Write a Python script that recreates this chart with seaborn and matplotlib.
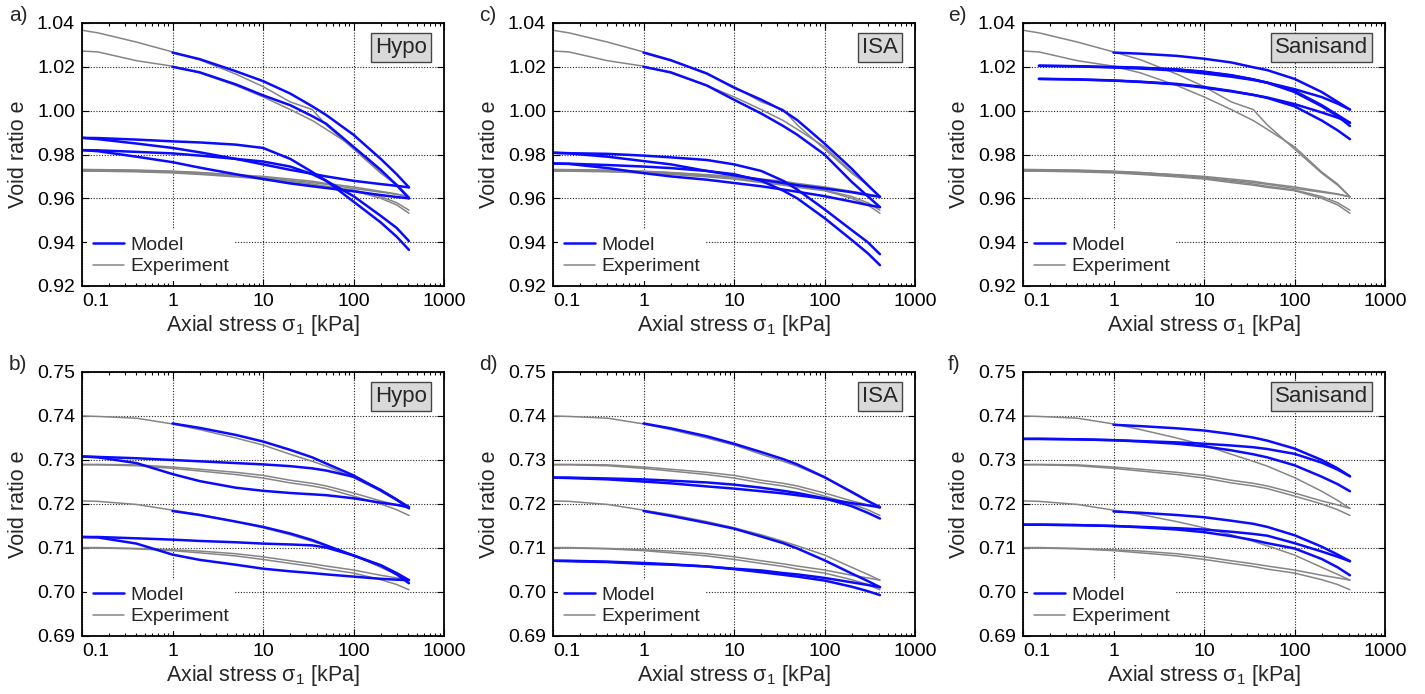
import numpy as np
import pandas as pd
import matplotlib
matplotlib.use("Agg")
import matplotlib.pyplot as plt
from matplotlib.lines import Line2D
from matplotlib.ticker import FixedLocator, FuncFormatter, LogLocator, NullFormatter, MultipleLocator
import seaborn as sns

N = np.nan

# common stress grid [kPa]
STRESS = [0.1, 0.15, 0.4, 1, 2, 5, 10, 20, 35, 50, 100, 200, 300, 410]

# experiments, loose sand (top row a, c, e)
exp_loose_load1 = [1.0367, 1.0355, 1.0313, 1.0268, 1.0232, 1.0167, 1.0110, 1.0040, 1.0005, 0.9935, 0.9825, 0.9715, 0.9660, 0.9607]
exp_loose_load2 = [1.0272, 1.0268, 1.0228, 1.0203, 1.0172, 1.0115, 1.0063, 1.0005, 0.9955, 0.9915, 0.9835, 0.9720, 0.9665, 0.9607]
exp_loose_unl1 = [0.9729, 0.9729, 0.9727, 0.9722, 0.9717, 0.9708, 0.9700, 0.9688, 0.9678, 0.9668, 0.9652, 0.9632, 0.9620, 0.9607]
exp_loose_rel1 = [0.9726, 0.9726, 0.9724, 0.9719, 0.9713, 0.9703, 0.9692, 0.9678, 0.9665, 0.9655, 0.9638, 0.9608, 0.9580, 0.9546]
exp_loose_unl2 = [0.9732, 0.9731, 0.9729, 0.9724, 0.9718, 0.9706, 0.9696, 0.9682, 0.9672, 0.9664, 0.9645, 0.9628, 0.9618, 0.9607]
exp_loose_rel2 = [0.9724, 0.9724, 0.9721, 0.9716, 0.9709, 0.9698, 0.9688, 0.9672, 0.9660, 0.9650, 0.9635, 0.9600, 0.9570, 0.9532]

# experiments, dense sand (bottom row b, d, f)
exp_dense_load1 = [0.7400, 0.7399, 0.7395, 0.7382, 0.7369, 0.7350, 0.7334, 0.7313, 0.7297, 0.7286, 0.7260, 0.7229, 0.7208, 0.7190]
exp_dense_unl1 = [0.7290, 0.7290, 0.7289, 0.7284, 0.7279, 0.7272, 0.7265, 0.7254, 0.7247, 0.7241, 0.7225, 0.7207, 0.7198, 0.7190]
exp_dense_rel1 = [0.7289, 0.7289, 0.7287, 0.7281, 0.7275, 0.7267, 0.7259, 0.7248, 0.7241, 0.7235, 0.7218, 0.7200, 0.7187, 0.7174]
exp_dense_load2 = [0.7207, 0.7206, 0.7199, 0.7186, 0.7176, 0.7160, 0.7146, 0.7130, 0.7115, 0.7105, 0.7084, 0.7056, 0.7040, 0.7027]
exp_dense_unl2 = [0.7101, 0.7101, 0.7099, 0.7096, 0.7093, 0.7087, 0.7080, 0.7071, 0.7064, 0.7059, 0.7050, 0.7038, 0.7032, 0.7027]
exp_dense_rel2 = [0.7100, 0.7100, 0.7098, 0.7094, 0.7089, 0.7082, 0.7074, 0.7065, 0.7058, 0.7052, 0.7043, 0.7028, 0.7017, 0.7005]

# Hypo
hypo_loose_load1 = [N, N, N, 1.0265, 1.0235, 1.0180, 1.0135, 1.0078, 1.0020, 0.9980, 0.9890, 0.9780, 0.9710, 0.9650]
hypo_loose_unl1 = [0.9876, 0.9870, 0.9850, 0.9830, 0.9810, 0.9780, 0.9755, 0.9730, 0.9712, 0.9700, 0.9680, 0.9665, 0.9657, 0.9650]
hypo_loose_rel1 = [0.9876, 0.9875, 0.9868, 0.9860, 0.9855, 0.9845, 0.9830, 0.9780, 0.9720, 0.9680, 0.9585, 0.9490, 0.9425, 0.9365]
hypo_loose_load2 = [N, N, N, 1.0200, 1.0175, 1.0120, 1.0070, 1.0025, 0.9975, 0.9940, 0.9835, 0.9730, 0.9660, 0.9600]
hypo_loose_unl2 = [0.9820, 0.9815, 0.9790, 0.9765, 0.9740, 0.9710, 0.9688, 0.9668, 0.9655, 0.9647, 0.9632, 0.9615, 0.9606, 0.9600]
hypo_loose_rel2 = [0.9820, 0.9819, 0.9812, 0.9805, 0.9795, 0.9780, 0.9768, 0.9745, 0.9710, 0.9680, 0.9610, 0.9520, 0.9465, 0.9405]

hypo_dense_load1 = [N, N, N, 0.7383, 0.7373, 0.7357, 0.7342, 0.7323, 0.7306, 0.7292, 0.7265, 0.7231, 0.7210, 0.7193]
hypo_dense_unl1 = [0.7308, 0.7306, 0.7293, 0.7268, 0.7252, 0.7237, 0.7230, 0.7225, 0.7222, 0.7220, 0.7213, 0.7203, 0.7198, 0.7193]
hypo_dense_rel1 = [0.7308, 0.7307, 0.7304, 0.7300, 0.7297, 0.7293, 0.7290, 0.7286, 0.7281, 0.7276, 0.7262, 0.7232, 0.7210, 0.7190]
hypo_dense_load2 = [N, N, N, 0.7184, 0.7175, 0.7160, 0.7148, 0.7133, 0.7118, 0.7106, 0.7083, 0.7061, 0.7043, 0.7027]
hypo_dense_unl2 = [0.7125, 0.7124, 0.7110, 0.7085, 0.7073, 0.7062, 0.7053, 0.7047, 0.7043, 0.7040, 0.7035, 0.7030, 0.7028, 0.7027]
hypo_dense_rel2 = [0.7125, 0.7125, 0.7122, 0.7119, 0.7116, 0.7113, 0.7110, 0.7108, 0.7106, 0.7101, 0.7083, 0.7060, 0.7040, 0.7020]

# ISA
isa_loose_load1 = [N, N, N, 1.0265, 1.0230, 1.0170, 1.0105, 1.0050, 1.0000, 0.9957, 0.9850, 0.9735, 0.9660, 0.9607]
isa_loose_unl1 = [0.9808, 0.9805, 0.9790, 0.9770, 0.9755, 0.9725, 0.9705, 0.9685, 0.9670, 0.9660, 0.9645, 0.9628, 0.9615, 0.9607]
isa_loose_rel1 = [0.9808, 0.9806, 0.9803, 0.9795, 0.9787, 0.9775, 0.9755, 0.9725, 0.9680, 0.9640, 0.9550, 0.9455, 0.9400, 0.9345]
isa_loose_load2 = [N, N, N, 1.0200, 1.0175, 1.0115, 1.0050, 0.9987, 0.9930, 0.9890, 0.9800, 0.9675, 0.9610, 0.9560]
isa_loose_unl2 = [0.9759, 0.9757, 0.9738, 0.9715, 0.9700, 0.9685, 0.9670, 0.9655, 0.9640, 0.9630, 0.9610, 0.9585, 0.9570, 0.9560]
isa_loose_rel2 = [0.9759, 0.9758, 0.9752, 0.9745, 0.9738, 0.9725, 0.9710, 0.9680, 0.9635, 0.9600, 0.9510, 0.9410, 0.9350, 0.9295]

isa_dense_load1 = [N, N, N, 0.7383, 0.7372, 0.7354, 0.7337, 0.7318, 0.7302, 0.7290, 0.7261, 0.7227, 0.7207, 0.7193]
isa_dense_unl1 = [0.7260, 0.7259, 0.7256, 0.7251, 0.7247, 0.7240, 0.7235, 0.7229, 0.7224, 0.7220, 0.7212, 0.7202, 0.7197, 0.7193]
isa_dense_rel1 = [0.7260, 0.7260, 0.7258, 0.7256, 0.7253, 0.7249, 0.7244, 0.7237, 0.7230, 0.7225, 0.7213, 0.7195, 0.7180, 0.7167]
isa_dense_load2 = [N, N, N, 0.7184, 0.7173, 0.7157, 0.7144, 0.7126, 0.7111, 0.7099, 0.7072, 0.7042, 0.7025, 0.7011]
isa_dense_unl2 = [0.7071, 0.7070, 0.7068, 0.7064, 0.7062, 0.7058, 0.7053, 0.7049, 0.7043, 0.7040, 0.7032, 0.7022, 0.7016, 0.7011]
isa_dense_rel2 = [0.7071, 0.7071, 0.7069, 0.7066, 0.7063, 0.7058, 0.7052, 0.7045, 0.7039, 0.7035, 0.7026, 0.7012, 0.7002, 0.6993]

# Sanisand
sani_loose_load1 = [N, N, N, 1.0265, 1.0260, 1.0250, 1.0237, 1.0220, 1.0198, 1.0185, 1.0145, 1.0085, 1.0040, 1.0005]
sani_loose_unl1 = [N, 1.0205, 1.0202, 1.0197, 1.0192, 1.0183, 1.0170, 1.0155, 1.0140, 1.0128, 1.0098, 1.0062, 1.0032, 1.0005]
sani_loose_rel1 = [N, 1.0205, 1.0203, 1.0199, 1.0195, 1.0188, 1.0178, 1.0162, 1.0143, 1.0128, 1.0085, 1.0020, 0.9975, 0.9930]
sani_loose_load2 = [N, N, N, 1.0200, 1.0196, 1.0188, 1.0177, 1.0160, 1.0142, 1.0127, 1.0090, 1.0025, 0.9980, 0.9945]
sani_loose_unl2 = [N, 1.0145, 1.0142, 1.0137, 1.0131, 1.0120, 1.0105, 1.0088, 1.0072, 1.0060, 1.0030, 0.9992, 0.9968, 0.9945]
sani_loose_rel2 = [N, 1.0145, 1.0143, 1.0138, 1.0132, 1.0122, 1.0108, 1.0090, 1.0072, 1.0058, 1.0020, 0.9955, 0.9910, 0.9870]

sani_dense_load1 = [N, N, N, 0.7380, 0.7377, 0.7372, 0.7367, 0.7359, 0.7351, 0.7344, 0.7326, 0.7300, 0.7281, 0.7263]
sani_dense_unl1 = [0.7348, 0.7348, 0.7347, 0.7345, 0.7343, 0.7340, 0.7337, 0.7333, 0.7329, 0.7325, 0.7314, 0.7294, 0.7278, 0.7263]
sani_dense_rel1 = [0.7348, 0.7348, 0.7347, 0.7345, 0.7342, 0.7337, 0.7331, 0.7322, 0.7313, 0.7306, 0.7288, 0.7262, 0.7245, 0.7229]
sani_dense_load2 = [N, N, N, 0.7183, 0.7180, 0.7175, 0.7170, 0.7162, 0.7155, 0.7148, 0.7129, 0.7103, 0.7085, 0.7070]
sani_dense_unl2 = [0.7153, 0.7153, 0.7152, 0.7150, 0.7148, 0.7145, 0.7142, 0.7137, 0.7132, 0.7128, 0.7111, 0.7092, 0.7080, 0.7070]
sani_dense_rel2 = [0.7153, 0.7153, 0.7152, 0.7150, 0.7147, 0.7142, 0.7136, 0.7127, 0.7118, 0.7111, 0.7099, 0.7075, 0.7056, 0.7038]

exp_loose = [exp_loose_load1, exp_loose_load2, exp_loose_unl1, exp_loose_rel1, exp_loose_unl2, exp_loose_rel2]
exp_dense = [exp_dense_load1, exp_dense_unl1, exp_dense_rel1, exp_dense_load2, exp_dense_unl2, exp_dense_rel2]

BLUE = "#0a0aff"
GREY = "#858585"

sns.set_style("ticks")
plt.rcParams["font.family"] = ["Liberation Sans", "DejaVu Sans"]
plt.rcParams["mathtext.fontset"] = "custom"
plt.rcParams["mathtext.rm"] = "Liberation Sans"
plt.rcParams["mathtext.it"] = "Liberation Sans:italic"
plt.rcParams["mathtext.default"] = "regular"


def to_frame(curves):
    frames = [pd.DataFrame({"stress": STRESS, "e": c, "curve": i}) for i, c in enumerate(curves)]
    return pd.concat(frames).dropna()


W, H = 1425, 694
fig = plt.figure(figsize=(W / 100, H / 100), dpi=100)

lefts = [82, 553, 1023]
panels = [
    # letter, label, experiment, model, ylim, column, row
    ("a)", "Hypo", exp_loose, [hypo_loose_load1, hypo_loose_unl1, hypo_loose_rel1, hypo_loose_load2, hypo_loose_unl2, hypo_loose_rel2], (0.92, 1.04), 0, 0),
    ("c)", "ISA", exp_loose, [isa_loose_load1, isa_loose_unl1, isa_loose_rel1, isa_loose_load2, isa_loose_unl2, isa_loose_rel2], (0.92, 1.04), 1, 0),
    ("e)", "Sanisand", exp_loose, [sani_loose_load1, sani_loose_unl1, sani_loose_rel1, sani_loose_load2, sani_loose_unl2, sani_loose_rel2], (0.92, 1.04), 2, 0),
    ("b)", "Hypo", exp_dense, [hypo_dense_load1, hypo_dense_unl1, hypo_dense_rel1, hypo_dense_load2, hypo_dense_unl2, hypo_dense_rel2], (0.69, 0.75), 0, 1),
    ("d)", "ISA", exp_dense, [isa_dense_load1, isa_dense_unl1, isa_dense_rel1, isa_dense_load2, isa_dense_unl2, isa_dense_rel2], (0.69, 0.75), 1, 1),
    ("f)", "Sanisand", exp_dense, [sani_dense_load1, sani_dense_unl1, sani_dense_rel1, sani_dense_load2, sani_dense_unl2, sani_dense_rel2], (0.69, 0.75), 2, 1),
]
letter_x = [9, 479, 948]

for letter, label, exp, model, ylim, col, row in panels:
    top_px = 23 if row == 0 else 372
    bot_px = 286 if row == 0 else 636
    ax = fig.add_axes([lefts[col] / W, 1 - bot_px / H, 362 / W, (bot_px - top_px) / H])

    sns.lineplot(data=to_frame(exp), x="stress", y="e", units="curve", estimator=None,
                 sort=False, color=GREY, lw=1.1, ax=ax, legend=False)
    sns.lineplot(data=to_frame(model), x="stress", y="e", units="curve", estimator=None,
                 sort=False, color=BLUE, lw=1.8, ax=ax, legend=False)

    ax.set_xscale("log")
    ax.set_xlim(0.1, 1000)
    ax.set_ylim(*ylim)
    ax.xaxis.set_major_locator(FixedLocator([0.1, 1, 10, 100, 1000]))
    ax.xaxis.set_major_formatter(FuncFormatter(lambda v, p: f"{v:g}"))
    ax.xaxis.set_minor_locator(LogLocator(base=10, subs=range(2, 10)))
    ax.xaxis.set_minor_formatter(NullFormatter())
    ax.yaxis.set_major_locator(MultipleLocator(0.02 if row == 0 else 0.01))
    ax.yaxis.set_major_formatter(FuncFormatter(lambda v, p: f"{v:.2f}"))

    ax.grid(True, which="major", color="#222222", ls=(0, (1, 1.5)), lw=0.8)
    ax.tick_params(which="both", direction="in", top=True, right=True, width=0.8,
                   labelsize=14, colors="black")
    ax.tick_params(which="major", length=5, pad=5)
    ax.tick_params(which="minor", length=2.5)
    for s in ax.spines.values():
        s.set_linewidth(1.3)
        s.set_color("black")

    ax.set_xlabel("Axial stress σ$_1$ [kPa]", fontsize=15.5, labelpad=2)
    ax.set_ylabel("Void ratio e", fontsize=15.5, labelpad=6)

    ax.text(0.953, 0.906, label, transform=ax.transAxes, ha="right", va="center", fontsize=16,
            bbox=dict(boxstyle="square,pad=0.18", fc="#d9d9d9", ec="#444444", lw=1.0))

    handles = [Line2D([], [], color=BLUE, lw=1.8), Line2D([], [], color=GREY, lw=1.1)]
    ax.legend(handles, ["Model", "Experiment"], loc="lower left", fontsize=14, frameon=True,
              facecolor="white", edgecolor="none", framealpha=1, fancybox=False,
              handlelength=1.6, handletextpad=0.35, labelspacing=0.2,
              borderpad=0.3, borderaxespad=0.25)

    fig.canvas.draw()
    ax.xaxis.get_major_ticks()[0].label1.set_horizontalalignment("left")

    fig.text(letter_x[col] / W, 1 - (6 if row == 0 else 355) / H, letter, fontsize=15,
             ha="left", va="top")

fig.savefig("out.png", dpi=100)
